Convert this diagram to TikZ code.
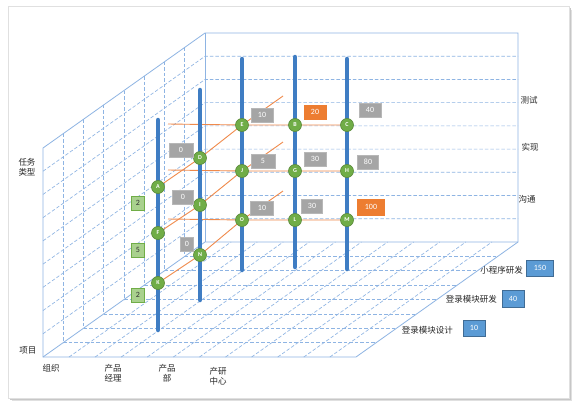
\documentclass[tikz,border=0pt]{standalone}
\usepackage{fontspec}
\setmainfont{Carlito}
\newfontfamily\cjk{Noto Sans CJK SC}
\definecolor{gridblue}{HTML}{8EB4E3}
\definecolor{poleblue}{HTML}{3F7DC3}
\definecolor{linkorange}{HTML}{F08A4B}
\definecolor{ptgreen}{HTML}{70AD47}
\definecolor{valgray}{HTML}{A5A5A5}
\definecolor{hotorange}{HTML}{ED7D31}
\definecolor{sumblue}{HTML}{5B9BD5}
\definecolor{cntgreen}{HTML}{A9D18E}
\tikzset{
  gridline/.style={draw=gridblue, dash pattern=on 3.5pt off 2pt, line width=0.65pt},
  boxedge/.style={draw=gridblue, line width=0.8pt},
  pole/.style={draw=poleblue, line width=4.5pt, line cap=round},
  link/.style={draw=linkorange, line width=0.9pt},
  pt/.style={circle, fill=ptgreen, draw=ptgreen!80!black, line width=0.6pt, minimum size=13pt, inner sep=0pt, text=white, font=\fontsize{6}{6}\selectfont\bfseries},
  val/.style={fill=valgray, draw=valgray!80!white, text=white, minimum height=14pt, minimum width=22pt, inner sep=1pt, font=\fontsize{8}{8}\selectfont},
  hot/.style={val, fill=hotorange, draw=hotorange},
  cnt/.style={fill=cntgreen, draw=ptgreen, minimum width=13pt, minimum height=14pt, inner sep=0pt, text=black!80, font=\fontsize{8}{8}\selectfont},
  sum/.style={fill=sumblue, draw=sumblue!70!black, text=white, minimum height=16pt, minimum width=22pt, inner sep=1pt, font=\fontsize{8}{8}\selectfont},
  lbl/.style={font=\cjk\fontsize{8.5}{10}\selectfont, align=center, inner sep=0pt, text=black!85}
}

\begin{document}
\begin{tikzpicture}[x=1pt, y=-1pt]
  \useasboundingbox (0,0) rectangle (579,410);
  % frame
  \fill[black!12] (12,10) rectangle (572,401);
  \fill[black!22] (10,8) rectangle (571,400);
  \draw[black!12, fill=white] (8,6) rectangle (569,398);

  % grid on the walls and the floor
  \foreach \i in {1,...,7} {
    \draw[gridline] (43+20.25*\i, 148-14.375*\i) -- (43+20.25*\i, 357-14.375*\i);
    \draw[gridline] (43+20.25*\i, 357-14.375*\i) -- (356+20.25*\i, 357-14.375*\i);
  }
  \foreach \k in {1,...,8}
    \draw[gridline] (43, 148+23.22*\k) -- (205, 33+23.22*\k) -- (518, 33+23.22*\k);
  \foreach \i in {1,...,11}
    \draw[gridline] (43+26.08*\i, 357) -- (205+26.08*\i, 242);
  \draw[boxedge] (43,357) -- (43,148) -- (205,33) -- (518,33) -- (518,242) -- (356,357) -- cycle;
  \draw[boxedge] (43,357) -- (205,242) -- (518,242);
  \draw[boxedge] (205,33) -- (205,242);

  % points
  \coordinate (A) at (158,187); \coordinate (D) at (200,158); \coordinate (E) at (242,125);
  \coordinate (B) at (295,125); \coordinate (C) at (347,125);
  \coordinate (F) at (158,233); \coordinate (I) at (200,205); \coordinate (J) at (242,171);
  \coordinate (G) at (295,171); \coordinate (H) at (347,171);
  \coordinate (K) at (158,283); \coordinate (N) at (200,255); \coordinate (O) at (242,220);
  \coordinate (L) at (295,220); \coordinate (M) at (347,220);
  \coordinate (r1) at (168,124); \coordinate (r2) at (168,170); \coordinate (r3) at (168,219);
  \coordinate (d1) at (283,96); \coordinate (d2) at (283,142); \coordinate (d3) at (283,191);

  \draw[link] (r1) -- (E) -- (B) -- (C);
  \draw[link] (r2) -- (J) -- (G) -- (H);
  \draw[link] (r3) -- (O) -- (L) -- (M);
  \draw[link] (A) -- (D) -- (E) -- (d1);
  \draw[link] (F) -- (I) -- (J) -- (d2);
  \draw[link] (K) -- (N) -- (O) -- (d3);

  % poles
  \draw[pole] (158,120) -- (158,330);
  \draw[pole] (200,90) -- (200,300);
  \draw[pole] (242,59) -- (242,270);
  \draw[pole] (295,57) -- (295,267);
  \draw[pole] (347,59) -- (347,269);

  \foreach \p in {A,B,C,D,E,F,G,H,I,J,K,L,M,N,O}
    \node[pt] (n\p) at (\p) {\p};

  % values
  \node[val, minimum width=24pt] (vD) at (181,150) {0};
  \node[val, minimum width=21pt] (vI) at (183,197) {0};
  \node[val, minimum width=13pt] (vN) at (187,244) {0};
  \node[val] (vE) at (262,115) {10};
  \node[val, minimum width=24pt] (vJ) at (263,161) {5};
  \node[val, minimum width=23pt] (vO) at (262,208) {10};
  \node[hot] (vB) at (315,112) {20};
  \node[val] (vG) at (315,159) {30};
  \node[val, minimum width=21pt] (vL) at (312,206) {30};
  \node[val] (vC) at (370,110) {40};
  \node[val, minimum width=21pt] (vH) at (368,162) {80};
  \node[hot, minimum width=27pt, minimum height=16pt] (vM) at (371,207) {100};

  \node[cnt] (cA) at (138,203) {2};
  \node[cnt] (cF) at (138,250) {5};
  \node[cnt] (cK) at (138,295) {2};

  % axis labels
  \node[lbl] (test) at (529,100) {测试};
  \node[lbl] (impl) at (530,147) {实现};
  \node[lbl] (talk) at (527,199) {沟通};
  \node[lbl, anchor=east] (proj3) at (523,270) {小程序研发};
  \node[lbl, anchor=east] (proj2) at (497,299) {登录模块研发};
  \node[lbl, anchor=east] (proj1) at (453,330) {登录模块设计};
  \node[sum, minimum width=27pt] (s3) at (540,268) {150};
  \node[sum, minimum height=17pt] (s2) at (513,299) {40};
  \node[sum] (s1) at (474,328) {10};
  \node[lbl] (ttype) at (27,167) {任务\\类型};
  \node[lbl] (proj) at (28,350) {项目};
  \node[lbl] (org) at (51,368) {组织};
  \node[lbl] (pm) at (113,373) {产品\\经理};
  \node[lbl] (pd) at (167,373) {产品\\部};
  \node[lbl] (rd) at (218,376) {产研\\中心};
\end{tikzpicture}
\end{document}
